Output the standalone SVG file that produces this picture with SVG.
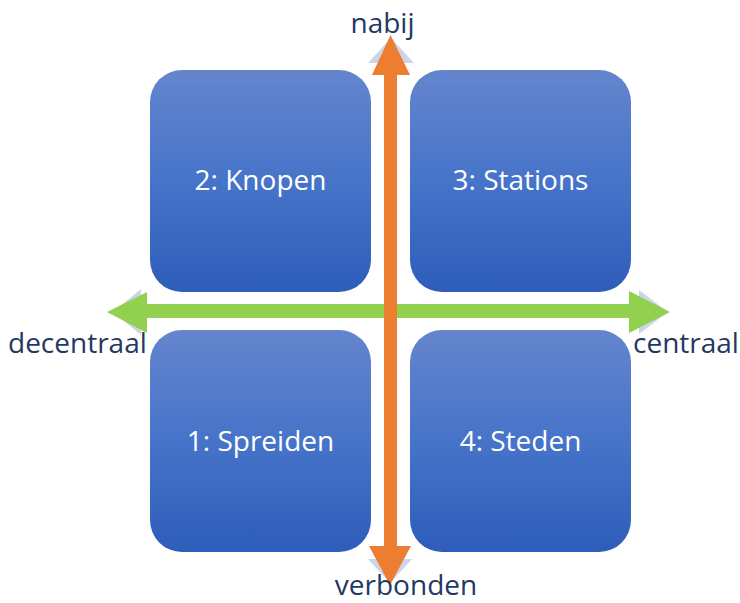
<svg xmlns="http://www.w3.org/2000/svg" width="740" height="603" viewBox="0 0 740 603">
<style>
.box{fill:url(#g)}
.bt{font-family:"Open Sans","Noto Sans",sans-serif;font-size:28px;fill:#ffffff;text-anchor:middle}
.lb{font-family:"Open Sans","Noto Sans",sans-serif;font-size:28px;fill:#1f3864}
.sh{fill:#cdd4ea}
</style>
<defs>
<linearGradient id="g" x1="0" y1="0" x2="0" y2="1">
<stop offset="0" stop-color="#6585ce"/>
<stop offset="0.5" stop-color="#4674c9"/>
<stop offset="1" stop-color="#2e5dba"/>
</linearGradient>
</defs>
<rect width="740" height="603" fill="#ffffff"/>
<g id="node2"><rect class="box" x="150" y="70" width="221" height="222" rx="32"/><text class="bt" x="260.5" y="190">2: Knopen</text></g>
<g id="node3"><rect class="box" x="410" y="70" width="221" height="222" rx="32"/><text class="bt" x="520.5" y="190">3: Stations</text></g>
<g id="node1"><rect class="box" x="150" y="330" width="221" height="222" rx="32"/><text class="bt" x="260.5" y="451">1: Spreiden</text></g>
<g id="node4"><rect class="box" x="410" y="330" width="221" height="222" rx="32"/><text class="bt" x="520.5" y="451">4: Steden</text></g>
<g id="connectors">
<polygon class="sh" points="391,38 368,63 414,63"/>
<polygon class="sh" points="390,583 368,559 412,559"/>
<polygon class="sh" points="113,312 141,289 141,335"/>
<polygon class="sh" points="668,312 639,290 639,334"/>
<polygon fill="#92d050" points="107,312 147,292 147,304 629,304 629,291 670,312 629,333 629,318 147,318 147,333"/>
<polygon fill="#ed7d31" points="390.5,35 410,75 397,75 397,546 411,546 390,585 369,546 384,546 384,75 372,75"/>
</g>
<g id="labels">
<text class="lb" x="382.5" y="33" text-anchor="middle">nabij</text>
<text class="lb" x="406" y="595" text-anchor="middle">verbonden</text>
<text class="lb" x="8" y="353">decentraal</text>
<text class="lb" x="633" y="353">centraal</text>
</g>
</svg>
